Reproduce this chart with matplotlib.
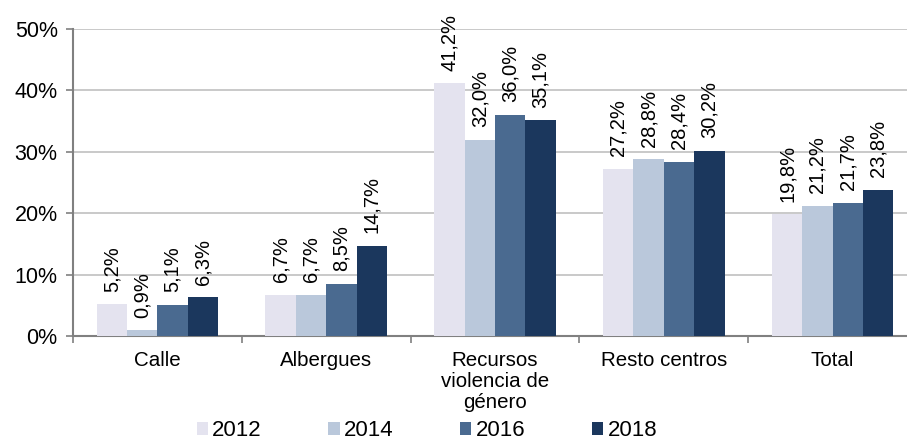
import matplotlib

matplotlib.use("Agg")
import matplotlib.pyplot as plt
import numpy as np
from matplotlib.patches import Patch
from matplotlib.ticker import FixedLocator

plt.rcParams["font.family"] = ["Liberation Sans", "DejaVu Sans"]

CATEGORIES = ["Calle", "Albergues", "Recursos\nviolencia de\ngénero", "Resto centros", "Total"]
YEARS = ["2012", "2014", "2016", "2018"]
VALUES = {
    "2012": [5.2, 6.7, 41.2, 27.2, 19.8],
    "2014": [0.9, 6.7, 32.0, 28.8, 21.2],
    "2016": [5.1, 8.5, 36.0, 28.4, 21.7],
    "2018": [6.3, 14.7, 35.1, 30.2, 23.8],
}
COLORS = {
    "2012": "#E4E3EF",
    "2014": "#BAC8DB",
    "2016": "#4A6A90",
    "2018": "#1B375D",
}

W, H = 907, 441
fig = plt.figure(figsize=(W / 100, H / 100), dpi=100)
ax = fig.add_axes([73 / W, (H - 336) / H, (917 - 73) / W, (336 - 29) / H])

x = np.arange(len(CATEGORIES))
bar_w = 0.18
for i, year in enumerate(YEARS):
    offs = (i - 1.5) * bar_w
    vals = VALUES[year]
    ax.bar(x + offs, vals, width=bar_w, color=COLORS[year], zorder=3, linewidth=0)
    for xi, v in zip(x + offs, vals):
        label = f"{v:.1f}%".replace(".", ",")
        ax.annotate(label, (xi, v), xytext=(0, 9), textcoords="offset points",
                    rotation=90, ha="center", va="bottom", fontsize=14.5, color="#000000")

ax.set_xlim(-0.5, len(CATEGORIES) - 0.5)
ax.set_ylim(0, 50)
ax.set_yticks(np.arange(0, 51, 10))
ax.set_yticklabels([f"{t}%" for t in range(0, 51, 10)], fontsize=15.5)
ax.yaxis.grid(True, color="#C0C0C0", linewidth=1.2, zorder=0)
ax.set_axisbelow(True)

ax.set_xticks(x)
ax.set_xticklabels(CATEGORIES, fontsize=14.8, linespacing=1.12)
ax.tick_params(axis="x", length=0, pad=11)
ax.xaxis.set_minor_locator(FixedLocator(np.arange(-0.5, len(CATEGORIES), 1.0)))
ax.tick_params(axis="x", which="minor", length=5, direction="out", color="#808080", width=1.2)
ax.tick_params(axis="y", length=5, direction="out", color="#808080", width=1.2, pad=6)

for side in ("top", "right"):
    ax.spines[side].set_visible(False)
for side in ("left", "bottom"):
    ax.spines[side].set_color("#808080")
    ax.spines[side].set_linewidth(1.5)

handles = [Patch(facecolor=COLORS[y], edgecolor="none") for y in YEARS]
fig.legend(handles, YEARS, loc="center", bbox_to_anchor=(427 / W, 1 - 431 / H), ncol=4,
           frameon=False, fontsize=16, handlelength=0.5, handleheight=0.5,
           handletextpad=0.2, columnspacing=3.0, borderpad=0)

fig.savefig("out.png", dpi=100)
